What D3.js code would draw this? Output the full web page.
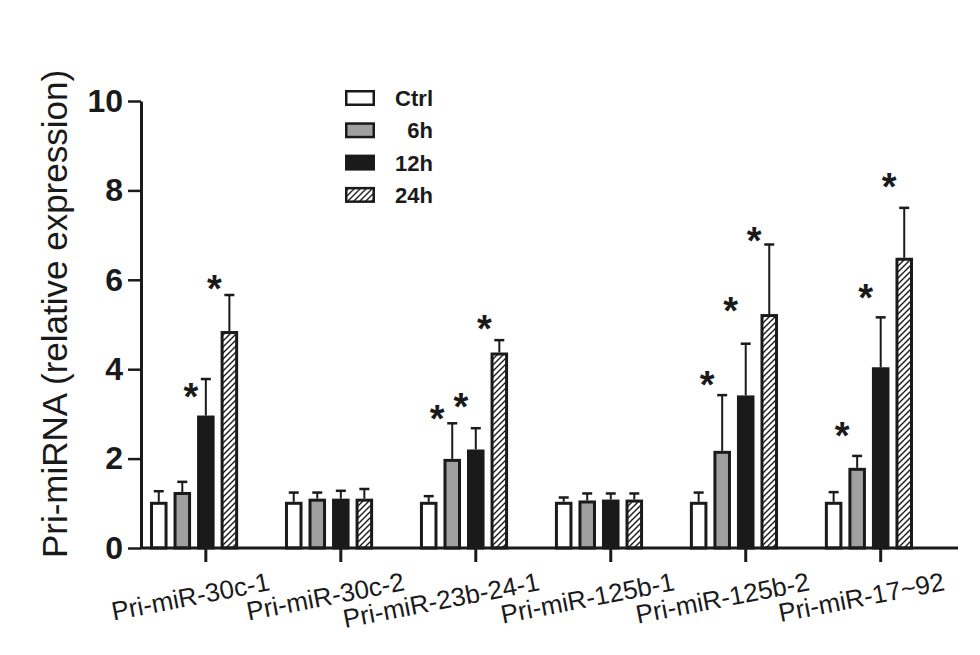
<!DOCTYPE html>
<html>
<head>
<meta charset="utf-8">
<script src="https://cdn.jsdelivr.net/npm/d3@7"></script>
<style>
  body { margin: 0; background: #fff; }
  svg { display: block; font-family: "Liberation Sans", Arial, sans-serif; }
</style>
</head>
<body>
<div id="chart"></div>
<script>
// Data
const categories = ["Pri-miR-30c-1", "Pri-miR-30c-2", "Pri-miR-23b-24-1", "Pri-miR-125b-1", "Pri-miR-125b-2", "Pri-miR-17~92"];
const series = ["Ctrl", "6h", "12h", "24h"];

const ctrlMean = [1.0, 1.0, 1.0, 1.0, 1.0, 1.0];
const ctrlErr  = [0.27, 0.24, 0.16, 0.13, 0.24, 0.25];
const h6Mean   = [1.22, 1.07, 1.96, 1.03, 2.14, 1.76];
const h6Err    = [0.26, 0.17, 0.83, 0.19, 1.28, 0.30];
const h12Mean  = [2.93, 1.07, 2.17, 1.05, 3.38, 4.01];
const h12Err   = [0.85, 0.21, 0.51, 0.17, 1.19, 1.15];
const h24Mean  = [4.82, 1.07, 4.34, 1.05, 5.20, 6.46];
const h24Err   = [0.84, 0.25, 0.31, 0.17, 1.59, 1.15];

// height (in axis units) of the significance asterisks, null = none
const ctrlStar = [null, null, null, null, null, null];
const h6Star   = [null, null, 3.09, null, 3.85, 2.71];
const h12Star  = [3.57, null, 3.36, null, 5.50, 5.79];
const h24Star  = [6.00, null, 5.09, null, 7.08, 8.28];

const yTicks = [0, 2, 4, 6, 8, 10];

const means = [ctrlMean, h6Mean, h12Mean, h24Mean];
const errs = [ctrlErr, h6Err, h12Err, h24Err];
const stars = [ctrlStar, h6Star, h12Star, h24Star];

const rows = [];
categories.forEach((c, i) => {
  series.forEach((s, j) => {
    rows.push({ cat: c, series: s, value: means[j][i], err: errs[j][i], star: stars[j][i] });
  });
});

const width = 980, height = 655;
const ink = "#1a1a1a";

const svg = d3.select("#chart").append("svg")
    .attr("width", width)
    .attr("height", height);

// hatch for the 24h bars
const defs = svg.append("defs");
defs.append("pattern")
    .attr("id", "hatch")
    .attr("patternUnits", "userSpaceOnUse")
    .attr("width", 6)
    .attr("height", 6)
  .append("path")
    .attr("d", "M-1,1 l2,-2 M0,6 l6,-6 M5,7 l2,-2")
    .attr("stroke", ink)
    .attr("stroke-width", 1.4);

const fills = { "Ctrl": "#ffffff", "6h": "#a0a0a0", "12h": ink, "24h": "url(#hatch)" };

const y = d3.scaleLinear().domain([0, 10]).range([548, 101]);

const x0 = d3.scaleBand()
    .domain(categories)
    .range([150, 913])
    .paddingInner(0.347)
    .paddingOuter(0);

const x1 = d3.scaleBand()
    .domain(series)
    .range([0, x0.bandwidth()])
    .paddingInner(0.255);

const sw = 3; // bar outline

// bars
svg.append("g")
  .selectAll("rect")
  .data(rows)
  .join("rect")
    .attr("x", d => x0(d.cat) + x1(d.series) + sw / 2)
    .attr("y", d => y(d.value))
    .attr("width", x1.bandwidth() - sw)
    .attr("height", d => y(0) - y(d.value))
    .attr("fill", d => fills[d.series])
    .attr("stroke", ink)
    .attr("stroke-width", sw);

// error bars (upper only)
const eb = svg.append("g").attr("stroke", ink).attr("stroke-width", 2);
eb.selectAll("line.v")
  .data(rows)
  .join("line")
    .attr("class", "v")
    .attr("x1", d => x0(d.cat) + x1(d.series) + x1.bandwidth() / 2)
    .attr("x2", d => x0(d.cat) + x1(d.series) + x1.bandwidth() / 2)
    .attr("y1", d => y(d.value) - sw / 2)
    .attr("y2", d => y(d.value + d.err));
eb.selectAll("line.cap")
  .data(rows)
  .join("line")
    .attr("class", "cap")
    .attr("stroke-width", 2.5)
    .attr("x1", d => x0(d.cat) + x1(d.series) + x1.bandwidth() / 2 - 5)
    .attr("x2", d => x0(d.cat) + x1(d.series) + x1.bandwidth() / 2 + 5)
    .attr("y1", d => y(d.value + d.err))
    .attr("y2", d => y(d.value + d.err));

// asterisks
svg.append("g")
  .selectAll("text")
  .data(rows.filter(d => d.star != null))
  .join("text")
    .attr("x", d => x0(d.cat) + x1(d.series) + x1.bandwidth() / 2 - 15)
    .attr("y", d => y(d.star) + 22)
    .attr("text-anchor", "middle")
    .attr("font-size", 38)
    .attr("font-weight", "bold")
    .attr("fill", ink)
    .text("*");

// y axis
const yAxis = svg.append("g")
    .attr("transform", "translate(141,0)")
    .call(d3.axisLeft(y).tickValues(yTicks).tickSize(13).tickSizeOuter(0).tickPadding(5));
yAxis.select(".domain").attr("stroke", ink).attr("stroke-width", 3);
yAxis.selectAll(".tick line").attr("stroke", ink).attr("stroke-width", 2.5);
yAxis.selectAll(".tick text")
    .attr("font-size", 32)
    .attr("font-weight", "bold")
    .attr("fill", ink)
    .attr("font-family", "Liberation Sans, Arial, sans-serif");

// x axis: ticks sit under the 12h bar of every group
const tickShift = x1("12h") + x1.bandwidth() / 2 - x0.bandwidth() / 2;
const xAxis = svg.append("g")
    .attr("transform", `translate(${tickShift},548)`)
    .call(d3.axisBottom(x0).tickSize(14).tickSizeOuter(0));
xAxis.select(".domain").remove();
xAxis.selectAll(".tick line").attr("stroke", ink).attr("stroke-width", 3);
xAxis.selectAll(".tick text")
    .attr("x", 0)
    .attr("y", 0)
    .attr("dy", 0)
    .attr("text-anchor", "end")
    .attr("transform", "translate(65,42) rotate(-11)")
    .attr("font-size", 26)
    .attr("fill", ink)
    .attr("font-family", "Liberation Sans, Arial, sans-serif");

svg.append("line")
    .attr("x1", 141)
    .attr("x2", 958)
    .attr("y1", y(0))
    .attr("y2", y(0))
    .attr("stroke", ink)
    .attr("stroke-width", 3);

// y title
svg.append("text")
    .attr("transform", "translate(67,314) rotate(-90)")
    .attr("text-anchor", "middle")
    .attr("font-size", 35)
    .attr("fill", ink)
    .text("Pri-miRNA (relative expression)");

// legend
const legend = svg.append("g")
  .selectAll("g")
  .data(series)
  .join("g")
    .attr("transform", (d, i) => `translate(0,${98 + i * 32.3})`);
legend.append("rect")
    .attr("x", 346.25)
    .attr("y", -6.75)
    .attr("width", 27.5)
    .attr("height", 13.5)
    .attr("fill", d => fills[d])
    .attr("stroke", ink)
    .attr("stroke-width", 2.5);
legend.append("text")
    .attr("x", 433)
    .attr("y", 8)
    .attr("text-anchor", "end")
    .attr("font-size", 22)
    .attr("font-weight", "bold")
    .attr("fill", ink)
    .text(d => d);
</script>
</body>
</html>
